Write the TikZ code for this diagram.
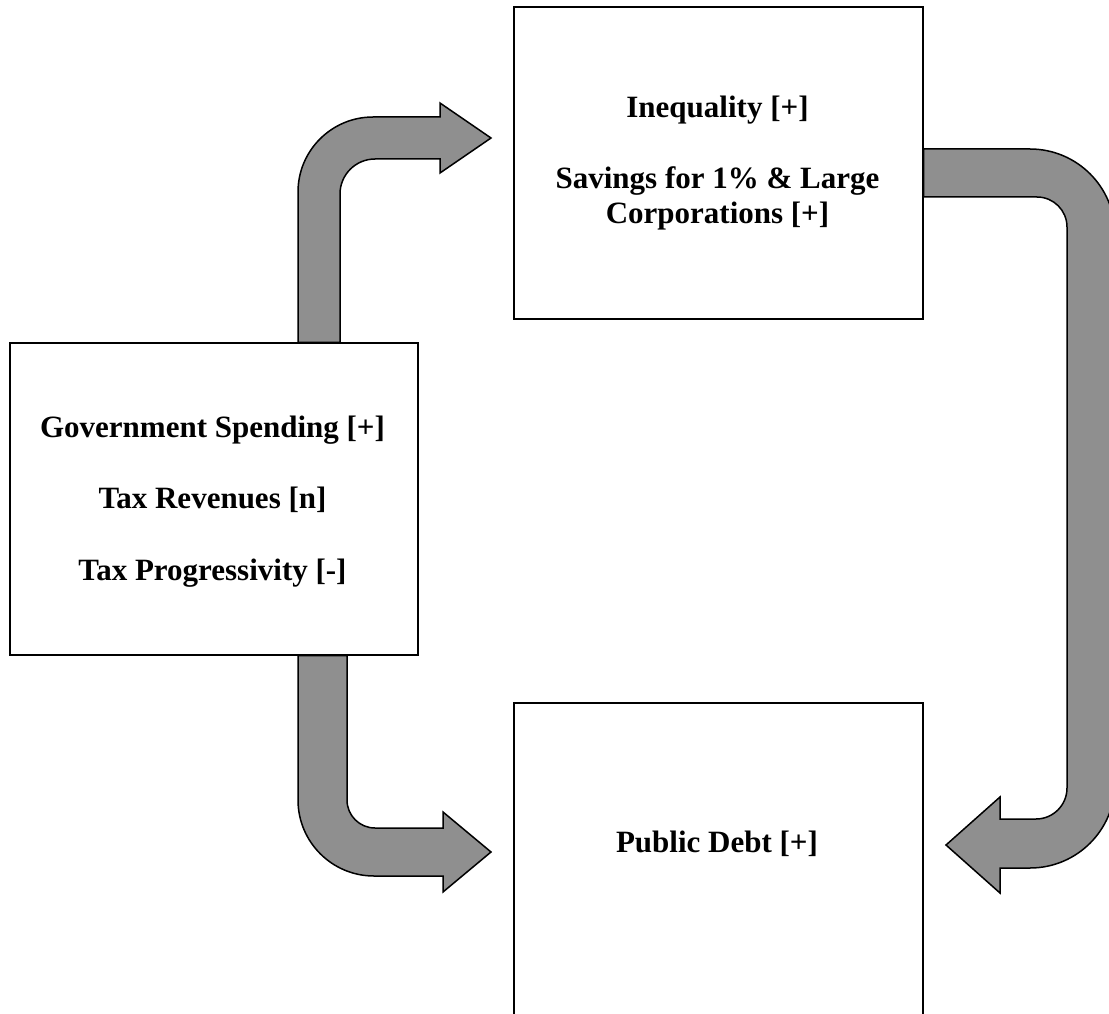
\documentclass[tikz,border=0pt]{standalone}
\usepackage{fontspec}
\setmainfont{Liberation Serif}
\begin{document}
\begin{tikzpicture}[x=1pt,y=1pt,
  box/.style={draw=black, line width=1.3pt, fill=white, inner sep=0pt, minimum width=409pt, minimum height=312pt},
  lbl/.style={font=\bfseries\fontsize{31}{36}\selectfont, anchor=base, inner sep=0pt},
  bent/.style={draw=black, line width=1.5pt, fill=arrowgray, line join=miter}]
\definecolor{arrowgray}{RGB}{143,143,143}
\useasboundingbox (0,0) rectangle (1109,-1014);
\clip (0,0) rectangle (1109,-1014);
% boxes
\node[box, minimum width=408pt] (gov) at (214,-499) {};
\node[box] (ineq) at (718.5,-163) {};
\node[box] (debt) at (718.5,-859) {};
% bent block arrows
\draw[bent] (298,0 |- gov.north) -- (298,-192) arc[start angle=180, end angle=90, radius=75]
  -- (440,-117) -- (440,-103) -- (491,-138) -- (440,-173) -- (440,-159)
  -- (375,-159) arc[start angle=90, end angle=180, radius=35]
  -- (340,0 |- gov.north) -- cycle;
\draw[bent] (ineq.east |- 0,-149) -- (1030,-149) arc[start angle=90, end angle=0, radius=85]
  -- (1115,-783) arc[start angle=0, end angle=-90, radius=85]
  -- (1000,-868) -- (1000,-893) -- (946,-845) -- (1000,-797) -- (1000,-819)
  -- (1036,-819) arc[start angle=-90, end angle=0, radius=31]
  -- (1067,-227) arc[start angle=0, end angle=90, radius=30]
  -- (ineq.east |- 0,-197) -- cycle;
\draw[bent] (298,0 |- gov.south) -- (298,-800) arc[start angle=180, end angle=270, radius=76]
  -- (443,-876) -- (443,-892) -- (491,-852) -- (443,-812) -- (443,-828)
  -- (375,-828) arc[start angle=270, end angle=180, radius=28]
  -- (347,0 |- gov.south) -- cycle;
% labels
\node[lbl] (g1) at (212.5,-437) {Government Spending [+]};
\node[lbl] (g2) at (212.5,-508) {Tax Revenues [n]};
\node[lbl] (g3) at (212.5,-580) {Tax Progressivity [-]};
\node[lbl] (i1) at (717.5,-118) {Inequality [+]};
\node[lbl] (i2) at (717.5,-189) {Savings for 1\% \& Large};
\node[lbl] (i3) at (717.5,-223) {Corporations [+]};
\node[lbl] (d1) at (717,-852) {Public Debt [+]};
\end{tikzpicture}
\end{document}
